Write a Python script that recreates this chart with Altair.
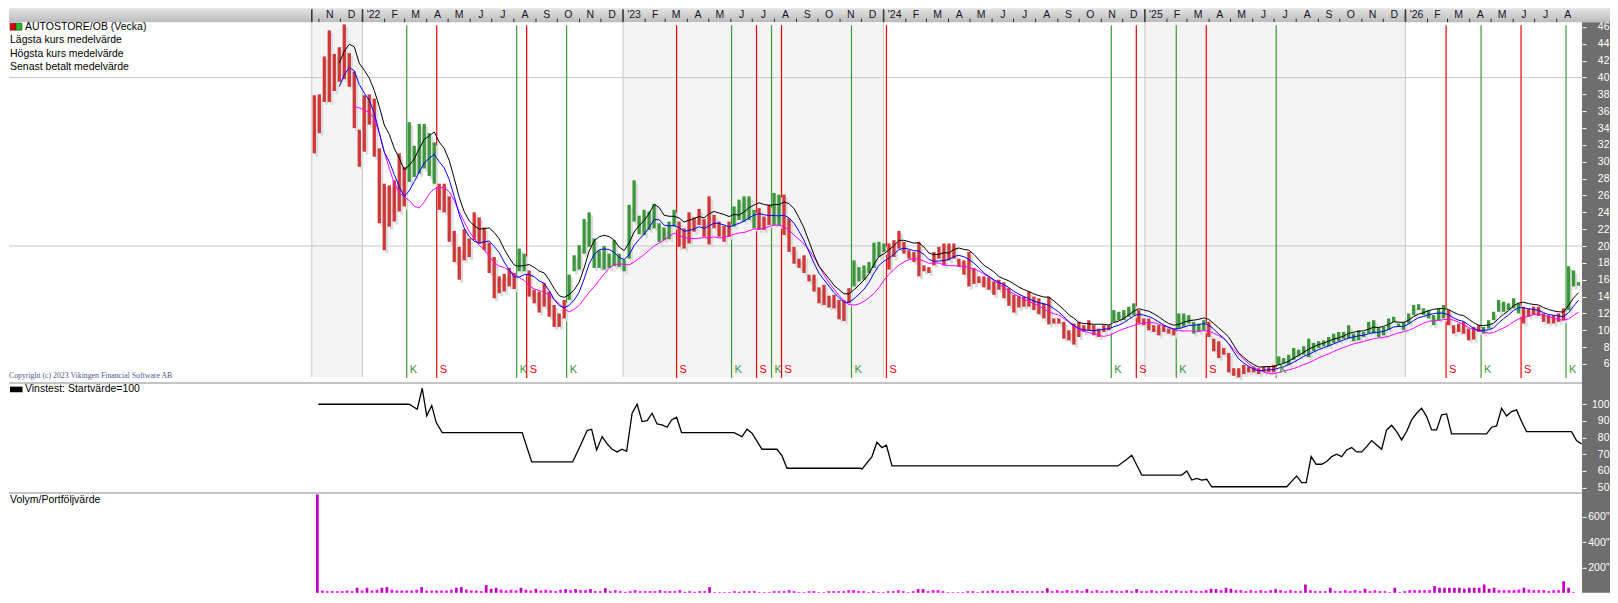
import altair as alt
import pandas as pd

# weekly bars, the first one is the week of 2021-10-25
high = [
    37.9, 38.0, 42.5, 45.6, 42.8, 43.6, 46.3, 42.9, 40.7, 33.8,
    37.9, 38.0, 37.5, 31.6, 27.4, 27.2, 27.8, 31.0, 29.4, 34.7,
    31.9, 34.5, 34.5, 33.4, 32.3, 27.4, 27.4, 25.9, 21.8, 19.9,
    22.0, 20.9, 24.0, 23.4, 22.2, 20.4, 18.7, 16.4, 16.7, 17.4,
    16.8, 19.7, 19.1, 17.1, 14.8, 14.6, 15.6, 14.6, 13.0, 12.0,
    13.6, 16.6, 18.9, 20.1, 23.2, 24.0, 20.9, 19.5, 20.0, 19.1,
    20.7, 19.1, 18.4, 24.9, 27.8, 23.6, 24.3, 24.1, 25.0, 22.7,
    22.2, 22.9, 24.3, 22.9, 22.1, 24.0, 23.4, 24.4, 23.2, 25.9,
    23.7, 22.9, 22.4, 22.9, 24.7, 25.5, 25.9, 25.9, 24.3, 24.5,
    23.5, 24.9, 26.3, 26.1, 26.1, 23.3, 19.9, 18.5, 18.9, 16.6,
    16.6, 15.1, 15.4, 14.1, 14.2, 13.6, 13.6, 15.0, 18.3, 17.5,
    17.7, 18.1, 20.4, 20.5, 20.3, 20.3, 20.7, 21.8, 20.5, 19.5,
    19.3, 20.5, 17.7, 17.5, 19.3, 19.9, 20.3, 20.3, 20.3, 18.5,
    18.3, 19.3, 17.4, 16.4, 16.4, 16.3, 15.8, 16.0, 15.7, 15.0,
    14.2, 14.1, 14.0, 14.6, 14.0, 13.8, 13.2, 14.0, 11.4, 11.4,
    11.0, 10.0, 10.8, 11.0, 10.6, 11.2, 10.6, 10.2, 10.6, 10.6,
    12.4, 12.2, 12.4, 12.8, 13.2, 12.4, 11.4, 11.4, 10.6, 10.6,
    10.6, 10.2, 10.2, 12.0, 12.0, 11.8, 11.0, 10.8, 11.2, 11.0,
    9.0, 8.7, 7.9, 7.3, 5.5, 5.5, 5.9, 5.7, 5.7, 5.5,
    5.7, 5.7, 5.9, 6.9, 6.7, 7.1, 7.9, 7.7, 8.1, 9.0,
    8.5, 8.7, 8.8, 9.2, 9.6, 9.8, 9.8, 10.6, 9.6, 10.0,
    9.8, 11.0, 11.2, 10.4, 10.4, 11.4, 11.6, 10.8, 11.0, 12.0,
    13.0, 13.1, 12.6, 12.4, 11.8, 12.6, 13.0, 12.4, 10.6, 10.8,
    11.0, 10.2, 10.4, 10.6, 10.4, 11.2, 12.2, 13.6, 13.4, 13.2,
    13.8, 13.2, 12.8, 12.6, 12.8, 12.8, 12.0, 11.8, 11.8, 12.0,
    12.6, 17.6, 17.1, 15.7,
]
low = [
    31.0, 33.4, 37.1, 37.1, 38.4, 39.5, 39.8, 38.9, 34.0, 29.4,
    31.2, 34.4, 30.6, 22.7, 19.5, 22.3, 22.9, 24.1, 24.7, 27.6,
    28.2, 28.6, 29.2, 28.3, 27.4, 24.3, 24.0, 20.5, 18.1, 16.0,
    18.3, 18.7, 20.7, 20.3, 19.5, 16.8, 13.8, 14.4, 14.6, 15.2,
    14.9, 17.0, 17.0, 14.0, 13.2, 12.1, 12.8, 11.6, 10.4, 10.4,
    11.4, 13.6, 17.0, 17.2, 19.1, 19.9, 17.4, 17.4, 17.2, 17.4,
    17.6, 17.5, 17.0, 18.5, 22.9, 21.4, 21.3, 21.9, 22.1, 20.5,
    20.7, 20.8, 22.3, 19.9, 19.7, 20.3, 21.7, 22.5, 21.1, 20.2,
    22.1, 21.1, 20.5, 21.1, 22.3, 23.1, 22.9, 23.1, 22.1, 21.9,
    21.9, 22.5, 22.5, 22.4, 21.3, 19.3, 17.9, 17.4, 16.8, 15.8,
    14.6, 13.2, 13.0, 12.7, 12.6, 11.3, 11.1, 13.2, 15.2, 15.8,
    16.0, 16.8, 17.4, 18.7, 19.3, 17.2, 18.7, 19.7, 19.1, 18.5,
    18.1, 16.4, 17.0, 16.8, 17.7, 18.5, 17.7, 18.3, 18.5, 17.5,
    16.6, 15.2, 15.5, 15.6, 15.1, 14.8, 14.2, 14.8, 13.8, 12.9,
    12.1, 12.7, 12.8, 12.8, 12.4, 11.9, 11.4, 10.7, 10.8, 10.8,
    9.0, 8.8, 8.3, 9.2, 9.8, 10.0, 9.4, 9.2, 9.8, 10.0,
    11.0, 11.2, 11.2, 11.6, 11.8, 10.8, 10.6, 10.0, 9.8, 9.4,
    9.8, 9.6, 9.4, 10.2, 10.4, 10.8, 9.6, 9.8, 10.0, 9.2,
    7.5, 6.7, 7.1, 5.0, 4.6, 4.4, 4.8, 5.0, 5.0, 4.8,
    5.0, 5.0, 5.0, 5.9, 6.1, 5.9, 6.5, 6.9, 7.1, 6.8,
    7.5, 7.9, 8.1, 8.1, 8.5, 8.7, 9.0, 9.0, 8.7, 8.8,
    9.2, 9.6, 9.6, 9.2, 9.4, 10.0, 11.0, 10.4, 10.0, 10.8,
    11.8, 12.4, 11.8, 11.4, 10.6, 11.2, 11.4, 10.6, 9.6, 9.8,
    9.6, 8.8, 8.9, 9.8, 9.6, 10.2, 11.2, 12.2, 12.2, 12.4,
    12.6, 12.0, 10.8, 11.6, 11.8, 11.7, 11.0, 10.8, 10.8, 11.0,
    11.2, 12.4, 15.2, 15.3,
]
volume = [
    777, 18, 13, 13, 13, 13, 18, 13, 40, 18,
    40, 18, 24, 40, 45, 24, 18, 18, 18, 18,
    24, 45, 18, 18, 18, 18, 18, 24, 40, 45,
    26, 18, 18, 13, 61, 32, 40, 26, 18, 24,
    18, 40, 24, 18, 32, 18, 24, 18, 13, 24,
    29, 21, 29, 21, 21, 29, 13, 13, 37, 13,
    21, 13, 8, 13, 21, 13, 13, 13, 13, 21,
    13, 13, 13, 21, 8, 13, 8, 13, 13, 45,
    5, 5, 5, 5, 13, 8, 13, 13, 13, 5,
    5, 5, 13, 13, 13, 21, 13, 5, 5, 13,
    13, 5, 5, 13, 13, 13, 13, 21, 21, 13,
    13, 5, 13, 5, 5, 13, 13, 21, 13, 5,
    13, 29, 29, 13, 21, 21, 13, 5, 5, 5,
    5, 13, 13, 5, 13, 13, 21, 13, 13, 13,
    21, 13, 13, 13, 13, 13, 13, 37, 13, 21,
    13, 21, 13, 21, 13, 29, 13, 21, 13, 13,
    21, 13, 13, 21, 13, 29, 13, 13, 21, 13,
    13, 21, 13, 21, 13, 13, 21, 13, 13, 21,
    32, 29, 21, 40, 32, 21, 21, 13, 21, 13,
    21, 13, 21, 29, 21, 13, 21, 13, 13, 66,
    21, 13, 13, 13, 40, 13, 13, 21, 13, 21,
    13, 32, 13, 21, 13, 13, 5, 40, 5, 13,
    21, 21, 21, 21, 21, 53, 40, 40, 40, 40,
    40, 32, 40, 40, 40, 66, 32, 40, 21, 21,
    21, 21, 26, 40, 26, 21, 21, 21, 13, 21,
    21, 92, 40, 5,
]
buy_weeks = [19, 41, 51, 84, 92, 108, 160, 173, 193, 234, 251]
sell_weeks = [25, 43, 73, 89, 94, 115, 165, 179, 227, 242]

# (week, value) of the Vinstest curve
vinstest = [
    (0.8, 100), (19.0, 100), (20.6, 97), (21.6, 109.6), (22.5, 93), (23.5, 99.2),
    (24.4, 89), (25.6, 83), (41.6, 83), (43.5, 65.4), (51.7, 65.4), (53.3, 75.6),
    (54.6, 84.2), (55.5, 85), (56.5, 72.6), (57.6, 80.6), (58.6, 76.2), (59.6, 73),
    (60.6, 71.4), (61.6, 73), (62.5, 71.8), (63.6, 94.6), (64.6, 100), (65.6, 89.6),
    (66.6, 90.2), (67.6, 94.6), (68.6, 88.2), (69.6, 87.6), (70.6, 86.2), (71.5, 90.6),
    (72.5, 92.2), (73.5, 83), (84.0, 83), (85.6, 80.6), (86.6, 85), (87.6, 82.6),
    (89.6, 73), (92.6, 73), (93.6, 69), (94.6, 61.6), (109.3, 61.6), (109.6, 61.0),
    (111.6, 68.6), (112.6, 77.2), (113.6, 74), (114.5, 75.4), (115.6, 63), (160.8, 63),
    (162.3, 66.2), (163.6, 69.4), (165.6, 57.5), (173.6, 57.5), (174.6, 60), (175.6, 54.5),
    (176.6, 55.5), (177.6, 54.5), (178.6, 55), (179.6, 50.5), (194.6, 50.5), (196.6, 57),
    (197.6, 53), (198.5, 53), (199.5, 68.6), (200.5, 64), (201.6, 64), (202.6, 65.6),
    (203.6, 68.6), (204.6, 70), (205.6, 68.6), (206.6, 72.6), (207.6, 74), (208.6, 71.4),
    (209.6, 71.4), (210.6, 74.6), (211.6, 78.2), (212.6, 75.6), (213.6, 73), (214.6, 84.6),
    (215.6, 87.4), (216.6, 83.6), (217.6, 78.6), (218.6, 83.6), (219.6, 90.6), (220.6, 94.6),
    (221.6, 97.6), (222.6, 92.6), (223.6, 84.6), (224.6, 84.6), (225.6, 93.6), (226.6, 94.2),
    (227.6, 82.2), (234.6, 82.2), (235.6, 86.2), (236.6, 87), (237.6, 97.6), (238.6, 93),
    (239.6, 95.6), (240.6, 96.6), (241.6, 89.6), (242.6, 83.6), (251.6, 83.6), (252.6, 78.2),
    (253.6, 76.2),
]

price_ticks = list(range(6, 48, 2))
vin_ticks = [50, 60, 70, 80, 90, 100]
vol_ticks = [200, 400, 600]
legend_lines = ["Lägsta kurs medelvärde", "Högsta kurs medelvärde", "Senast betalt medelvärde"]

first_week = pd.Timestamp("2021-10-25 12:00")
W = 1574
AX = 28
FONT = "Liberation Sans"
GREEN = "#3a9a3a"
RED = "#f00000"
AXIS_BG = "#6e6e6e"

x_scale = alt.Scale(domain=[-427.7, 1775.9], nice=False, zero=False)
price_scale = alt.Scale(domain=[3.867, 46.572], nice=False, zero=False)
vin_scale = alt.Scale(domain=[47.42, 113.37], nice=False, zero=False)
vol_scale = alt.Scale(domain=[0, 797], nice=False)


def day(ts):
    return (pd.Timestamp(ts) - first_week) / pd.Timedelta(days=1)


def right_axis(values, expr=None):
    kw = dict(values=values, orient="right", title=None, domain=False, grid=False,
              tickColor="white", tickSize=4, labelColor="white", labelFont=FONT,
              labelFontSize=10.5, labelAlign="right", labelPadding=23, zindex=1)
    if expr:
        kw["labelExpr"] = expr
    return alt.Axis(**kw)


def X(field):
    return alt.X(field, type="quantitative", scale=x_scale, axis=None)


one = pd.DataFrame({"t": [""]})


def text(s, x, y, size=10.5, color="black", font=FONT, align="left"):
    return alt.Chart(pd.DataFrame({"t": [s]})).mark_text(
        align=align, baseline="middle", fontSize=size, color=color, font=font
    ).encode(x=alt.value(x), y=alt.value(y), text="t:N")


def box(x1, x2, y1, y2, color, **kw):
    return alt.Chart(one).mark_rect(color=color, **kw).encode(
        x=alt.value(x1), x2=alt.value(x2), y=alt.value(y1), y2=alt.value(y2))


# holding state per week from the K/S signals
events = sorted([(w, True) for w in buy_weeks] + [(w, False) for w in sell_weeks])
state, holding, j = [], False, 0
for i in range(len(high)):
    while j < len(events) and events[j][0] <= i:
        holding = events[j][1]
        j += 1
    state.append("buy" if holding else "sell")

bars = pd.DataFrame({"day": [7 * i for i in range(len(high))], "high": high, "low": low,
                     "vol": volume, "state": state})
bars["mid"] = (bars["high"] + bars["low"]) / 2

signals = pd.DataFrame({
    "day": [7 * w - 3.5 for w in buy_weeks] + [7 * w - 3.5 for w in sell_weeks],
    "kind": ["K"] * len(buy_weeks) + ["S"] * len(sell_weeks),
})
sig_color = alt.condition("datum.kind == 'K'", alt.value(GREEN), alt.value(RED))

year_days = [day(f"{y}-01-01") for y in range(2022, 2027)]
edges = [-3.5] + year_days
shade = pd.DataFrame({"a": edges[0::2][:3], "b": edges[1::2][:3]})
edge_df = pd.DataFrame({"day": edges})

months = pd.date_range("2021-11-01", "2026-08-01", freq="MS")
month_df = pd.DataFrame({
    "start": [day(m) for m in months],
    "mid": [day(m) + m.days_in_month / 2 for m in months],
    "label": ["'" + str(m.year)[2:] if m.month == 1 else "JFMAMJJASOND"[m.month - 1]
              for m in months],
    "jan": [m.month == 1 for m in months],
})

# ---- header with the months
HH = 14
header = alt.layer(
    box(0, W + AX, 0, HH, alt.Gradient(
        gradient="linear", x1=0, y1=0, x2=0, y2=1,
        stops=[alt.GradientStop(color="#e4e4e4", offset=0),
               alt.GradientStop(color="#bcbcbc", offset=1)])),
    alt.Chart(month_df[~month_df["jan"]]).mark_rule(color="#2a2a2a").encode(
        x=X("start"), y=alt.value(10.5), y2=alt.value(HH)),
    alt.Chart(edge_df).mark_rule(color="#3a3a3a", strokeWidth=1.6).encode(
        x=X("day"), y=alt.value(1), y2=alt.value(HH)),
    alt.Chart(month_df).mark_text(fontSize=10.5, font=FONT, color="#14142a",
                                  baseline="middle").encode(
        x=X("mid"), y=alt.value(6.5), text="label:N"),
).properties(width=W, height=HH)

# ---- price panel
PH = 360
py = lambda f: alt.Y(f, type="quantitative", scale=price_scale, axis=right_axis(price_ticks))

ma_high = alt.Chart(bars).transform_window(
    ma="mean(high)", n="count()", frame=[-5, 0], sort=[alt.SortField("day")]
).transform_filter("datum.n >= 6").mark_line(color="black", strokeWidth=1).encode(
    x=X("day"), y=py("ma"))
ma_mid = alt.Chart(bars).transform_window(
    ma="mean(mid)", n="count()", frame=[-5, 0], sort=[alt.SortField("day")]
).transform_filter("datum.n >= 6").mark_line(color="#0000ff", strokeWidth=1).encode(
    x=X("day"), y=py("ma"))
ma_low = alt.Chart(bars).transform_window(
    ma="mean(low)", n="count()", frame=[-8, 0], sort=[alt.SortField("day")]
).transform_filter("datum.n >= 9").mark_line(color="#ff00ff", strokeWidth=1).encode(
    x=X("day"), y=py("ma"))

price = alt.layer(
    alt.Chart(shade).mark_rect(color="#f4f4f4").encode(
        x=X("a"), x2="b", y=alt.value(0), y2=alt.value(355)),
    alt.Chart(edge_df).mark_rule(color="#c8c8c8").encode(
        x=X("day"), y=alt.value(0), y2=alt.value(355)),
    alt.Chart(pd.DataFrame({"level": [20, 40]})).mark_rule(color="#c8c8c8").encode(
        x=alt.value(0), x2=alt.value(W), y=py("level")),
    alt.Chart(signals).mark_rule(strokeWidth=1.2).encode(
        x=X("day"), y=alt.value(3), y2=alt.value(356), color=sig_color),
    alt.Chart(bars).mark_rule(strokeWidth=3, color="#dcdcdc", xOffset=2.5,
                              yOffset=3, y2Offset=3).encode(
        x=X("day"), y=py("low"), y2="high"),
    alt.Chart(bars).mark_rule(strokeWidth=3.3).encode(
        x=X("day"), y=py("low"), y2="high",
        color=alt.condition("datum.state == 'buy'", alt.value("#3c963c"), alt.value("#d03838"))),
    ma_low, ma_mid, ma_high,
    alt.Chart(signals).mark_text(fontSize=11, font=FONT, align="left", baseline="middle",
                                 dx=3).encode(
        x=X("day"), y=alt.value(348), text="kind:N", color=sig_color),
    box(1, 7, 1, 8, "#e00000", stroke="#303030", strokeWidth=0.6),
    box(7, 13, 1, 8, "#20c020", stroke="#303030", strokeWidth=0.6),
    text("AUTOSTORE/OB (Vecka)", 16, 5),
    text(legend_lines[0], 1, 18.3),
    text(legend_lines[1], 1, 31.7),
    text(legend_lines[2], 1, 45),
    text("Copyright (c) 2023 Vikingen Financial Software AB", 0, 354, size=7.8,
         color="#4a5890", font="Liberation Serif"),
    box(W, W + AX, 0, PH, AXIS_BG),
).properties(width=W, height=PH)

# ---- Vinstest panel
VH = 110
vin_df = pd.DataFrame({"day": [7 * w for w, _ in vinstest], "value": [v for _, v in vinstest]})
vin = alt.layer(
    box(0, W, 0, 2, "#c4c4c4"),
    alt.Chart(vin_df).mark_line(color="black", strokeWidth=1.3).encode(
        x=X("day"),
        y=alt.Y("value:Q", scale=vin_scale, axis=right_axis(vin_ticks))),
    box(1, 13.5, 4.7, 10.3, "black"),
    text("Vinstest: Startvärde=100", 16, 7.5),
    box(W, W + AX, 0, VH, AXIS_BG),
).properties(width=W, height=VH)

# ---- volume panel
OH = 101
vol = alt.layer(
    box(0, W, 0, 2, "#c4c4c4"),
    alt.Chart(bars).mark_bar(size=2.7).encode(
        x=X("day"),
        y=alt.Y("vol:Q", scale=vol_scale, axis=right_axis(vol_ticks, "datum.value + '\"'")),
        color=alt.condition("datum.vol >= 28", alt.value("#c000c0"), alt.value("#ff00ff"))),
    text("Volym/Portföljvärde", 1, 8),
    box(W, W + AX, 0, OH, AXIS_BG),
).properties(width=W, height=OH)

chart = alt.vconcat(header, price, vin, vol, spacing=0, bounds="flush").properties(
    padding=0
).configure_view(stroke=None)

chart.save("out.html", embed_options={"renderer": "svg", "actions": False})
